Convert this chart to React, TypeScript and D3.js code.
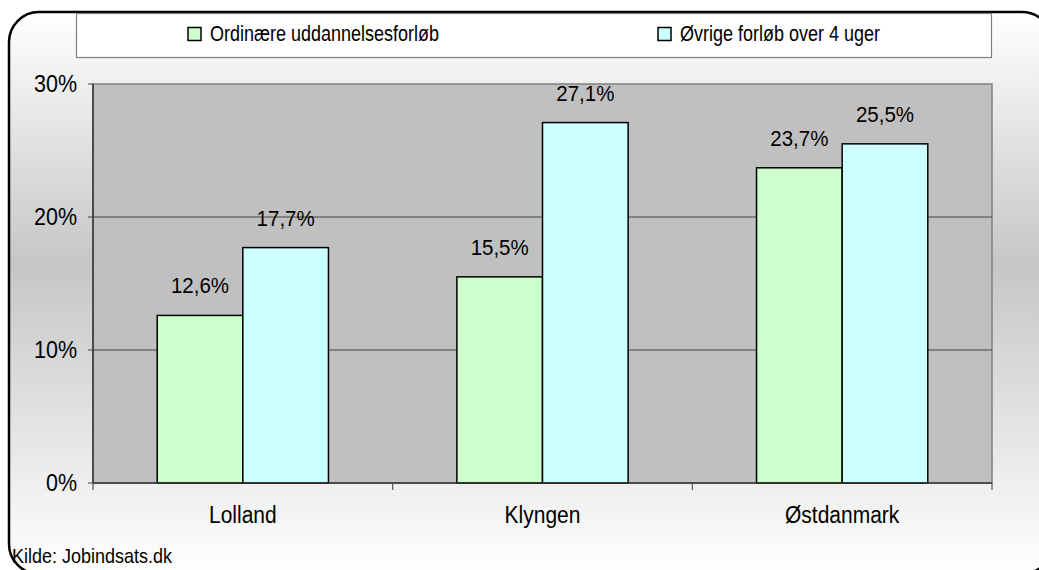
import React from "react";
import * as d3 from "d3";

const categories = ["Lolland", "Klyngen", "Østdanmark"];
const seriesNames = ["Ordinære uddannelsesforløb", "Øvrige forløb over 4 uger"];
const ordinaere = [12.6, 15.5, 23.7];
const oevrige = [17.7, 27.1, 25.5];
const yTicks = [0, 10, 20, 30];
const seriesColors = ["#ccffcc", "#ccffff"];
const sourceText = "Kilde: Jobindsats.dk";
const titleText = "Afgang til job og uddannelse efter forløb, opgjort på grupper";

const W = 1039;
const H = 570;
const FONT = "'Liberation Sans', Arial, sans-serif";

function T(props: {
  x: number;
  y: number;
  size: number;
  sy?: number;
  anchor?: string;
  children: React.ReactNode;
}) {
  const sy = props.sy ?? 1.12;
  return (
    <text
      transform={`translate(${props.x},${props.y}) scale(1,${sy})`}
      fontSize={props.size}
      textAnchor={props.anchor ?? "start"}
      fill="#000"
    >
      {props.children}
    </text>
  );
}

export default function App() {
  const plot = { x0: 93, x1: 992, yTop: 84, yBottom: 483 };
  const y = d3.scaleLinear().domain([0, 30]).range([plot.yBottom, plot.yTop]);
  const x0 = d3.scaleBand<string>().domain(categories).range([plot.x0, plot.x1]).padding(0);
  const x1 = d3
    .scaleBand<string>()
    .domain(seriesNames)
    .range([0, x0.bandwidth()])
    .paddingInner(0)
    .paddingOuter(0.75);
  const values = [ordinaere, oevrige];
  const fmt = (v: number) => v.toFixed(1).replace(".", ",") + "%";
  const boundaries = [...categories.map((c) => x0(c) as number), plot.x1];

  return (
    <svg
      width={W}
      height={H}
      style={{ position: "absolute", left: 0, top: 0, display: "block" }}
      fontFamily={FONT}
    >
      <defs>
        <linearGradient id="bg" x1="0" y1="0" x2="0" y2="1">
          <stop offset="0" stopColor="#ffffff" />
          <stop offset="0.45" stopColor="#c6c6c6" />
          <stop offset="1" stopColor="#ffffff" />
        </linearGradient>
      </defs>
      <rect x={0} y={0} width={W} height={H} fill="#ffffff" />
      <text x={110} y={-4} fill="#3333ff" fontWeight="bold" fontSize={18}>
        {titleText}
      </text>
      <rect x={9} y={12} width={1043} height={562} rx={30} ry={30} fill="url(#bg)" stroke="#000" strokeWidth={2.5} />

      {/* legend */}
      <rect x={76.5} y={13.5} width={915} height={44} fill="#ffffff" stroke="#808080" strokeWidth={1.2} />
      {seriesNames.map((s, i) => {
        const lx = i === 0 ? 188 : 658;
        return (
          <g key={s}>
            <rect x={lx} y={27.5} width={13} height={13} fill={seriesColors[i]} stroke="#000" strokeWidth={1.5} />
            <T x={lx + 22} y={41} size={18} sy={1.2}>
              {s}
            </T>
          </g>
        );
      })}

      {/* plot area */}
      <rect
        x={plot.x0}
        y={plot.yTop}
        width={plot.x1 - plot.x0}
        height={plot.yBottom - plot.yTop}
        fill="#c0c0c0"
        stroke="#808080"
        strokeWidth={1.5}
      />
      {yTicks.map((t) => (
        <g key={t}>
          {t > 0 && t < 30 && (
            <line x1={plot.x0} x2={plot.x1} y1={y(t)} y2={y(t)} stroke="#444" strokeWidth={1} />
          )}
          <line x1={88} x2={plot.x0} y1={y(t)} y2={y(t)} stroke="#444" strokeWidth={1} />
          <T x={77} y={y(t) + 8} size={21.5} sy={1.1} anchor="end">
            {t}%
          </T>
        </g>
      ))}
      <line x1={plot.x0} x2={plot.x0} y1={plot.yTop} y2={plot.yBottom} stroke="#333" strokeWidth={1.5} />

      {/* bars */}
      {categories.map((c, ci) => (
        <g key={c}>
          {seriesNames.map((s, si) => {
            const v = values[si][ci];
            const bx = (x0(c) as number) + (x1(s) as number);
            const bw = x1.bandwidth();
            return (
              <g key={s}>
                <rect
                  x={bx}
                  y={y(v)}
                  width={bw}
                  height={y(0) - y(v)}
                  fill={seriesColors[si]}
                  stroke="#000"
                  strokeWidth={1.5}
                />
                <T x={bx + bw / 2} y={y(v) - 22} size={20.5} sy={1.1} anchor="middle">
                  {fmt(v)}
                </T>
              </g>
            );
          })}
          <T x={(x0(c) as number) + x0.bandwidth() / 2} y={523} size={21} sy={1.12} anchor="middle">
            {c}
          </T>
        </g>
      ))}

      {/* x axis */}
      <line x1={plot.x0} x2={plot.x1} y1={plot.yBottom} y2={plot.yBottom} stroke="#333" strokeWidth={1.5} />
      {boundaries.map((bx, i) => (
        <line key={i} x1={bx} x2={bx} y1={plot.yBottom} y2={plot.yBottom + 7} stroke="#555" strokeWidth={1.2} />
      ))}

      <T x={12} y={563} size={18} sy={1.15}>
        {sourceText}
      </T>
    </svg>
  );
}
